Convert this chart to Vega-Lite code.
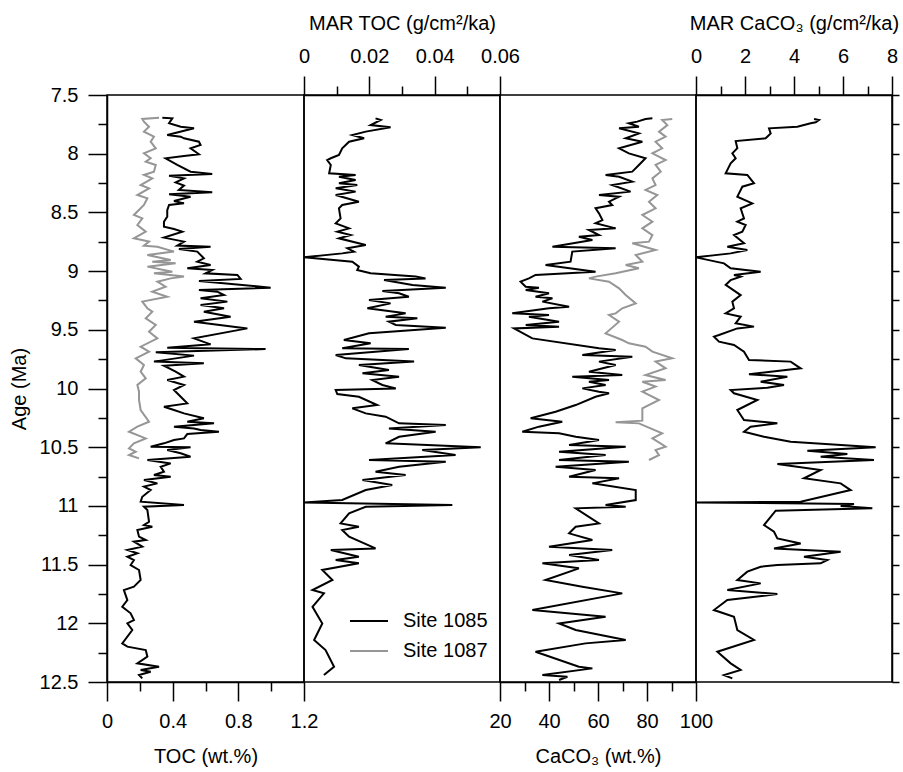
{
"$schema":"https://vega.github.io/schema/vega-lite/v6.json",
"padding":{"left":8,"top":12,"right":5,"bottom":5},
"background":"white",
"spacing":0,
"bounds":"flush",
"resolve":{"scale":{"x":"independent","y":"independent","color":"independent"},"legend":{"color":"independent"}},
"config":{
 "font":"Liberation Sans",
 "view":{"stroke":"black","strokeWidth":1.5},
 "axis":{"labelFont":"Liberation Sans","titleFont":"Liberation Sans","labelFontSize":20,"titleFontSize":20,"titleFontWeight":"normal","labelColor":"black","titleColor":"black","domainColor":"black","tickColor":"black","domainWidth":1.5,"tickWidth":1.5,"grid":false,"labelFlush":false,"labelOverlap":false,"labelPadding":10,"titlePadding":10},
 "axisX":{"titlePadding":15},
 "legend":{"labelFont":"Liberation Sans","labelFontSize":20,"labelColor":"black"}
},
"datasets":{
"toc":[
{"site":"Site 1085","age":7.693,"value":0.337},{"site":"Site 1085","age":7.699,"value":0.398},{"site":"Site 1085","age":7.741,"value":0.378},{"site":"Site 1085","age":7.770,"value":0.449},{"site":"Site 1085","age":7.784,"value":0.530},{"site":"Site 1085","age":7.841,"value":0.367},{"site":"Site 1085","age":7.855,"value":0.449},{"site":"Site 1085","age":7.869,"value":0.469},{"site":"Site 1085","age":7.898,"value":0.560},{"site":"Site 1085","age":7.926,"value":0.570},{"site":"Site 1085","age":7.954,"value":0.509},{"site":"Site 1085","age":8.005,"value":0.560},{"site":"Site 1085","age":8.020,"value":0.469},{"site":"Site 1085","age":8.039,"value":0.357},{"site":"Site 1085","age":8.096,"value":0.428},{"site":"Site 1085","age":8.153,"value":0.509},{"site":"Site 1085","age":8.173,"value":0.641},{"site":"Site 1085","age":8.187,"value":0.378},{"site":"Site 1085","age":8.210,"value":0.469},{"site":"Site 1085","age":8.244,"value":0.418},{"site":"Site 1085","age":8.272,"value":0.469},{"site":"Site 1085","age":8.309,"value":0.438},{"site":"Site 1085","age":8.329,"value":0.641},{"site":"Site 1085","age":8.346,"value":0.378},{"site":"Site 1085","age":8.366,"value":0.509},{"site":"Site 1085","age":8.403,"value":0.408},{"site":"Site 1085","age":8.423,"value":0.469},{"site":"Site 1085","age":8.437,"value":0.378},{"site":"Site 1085","age":8.480,"value":0.367},{"site":"Site 1085","age":8.536,"value":0.367},{"site":"Site 1085","age":8.579,"value":0.347},{"site":"Site 1085","age":8.622,"value":0.347},{"site":"Site 1085","age":8.641,"value":0.408},{"site":"Site 1085","age":8.664,"value":0.459},{"site":"Site 1085","age":8.715,"value":0.347},{"site":"Site 1085","age":8.749,"value":0.469},{"site":"Site 1085","age":8.783,"value":0.428},{"site":"Site 1085","age":8.792,"value":0.631},{"site":"Site 1085","age":8.812,"value":0.438},{"site":"Site 1085","age":8.834,"value":0.550},{"site":"Site 1085","age":8.891,"value":0.590},{"site":"Site 1085","age":8.920,"value":0.550},{"site":"Site 1085","age":8.948,"value":0.631},{"site":"Site 1085","age":8.976,"value":0.489},{"site":"Site 1085","age":8.991,"value":0.641},{"site":"Site 1085","age":9.019,"value":0.600},{"site":"Site 1085","age":9.033,"value":0.794},{"site":"Site 1085","age":9.067,"value":0.814},{"site":"Site 1085","age":9.084,"value":0.560},{"site":"Site 1085","age":9.141,"value":0.997},{"site":"Site 1085","age":9.161,"value":0.560},{"site":"Site 1085","age":9.175,"value":0.672},{"site":"Site 1085","age":9.204,"value":0.713},{"site":"Site 1085","age":9.232,"value":0.570},{"site":"Site 1085","age":9.260,"value":0.733},{"site":"Site 1085","age":9.289,"value":0.570},{"site":"Site 1085","age":9.317,"value":0.713},{"site":"Site 1085","age":9.346,"value":0.590},{"site":"Site 1085","age":9.388,"value":0.753},{"site":"Site 1085","age":9.431,"value":0.530},{"site":"Site 1085","age":9.488,"value":0.855},{"site":"Site 1085","age":9.573,"value":0.530},{"site":"Site 1085","age":9.624,"value":0.631},{"site":"Site 1085","age":9.652,"value":0.367},{"site":"Site 1085","age":9.664,"value":0.966},{"site":"Site 1085","age":9.692,"value":0.297},{"site":"Site 1085","age":9.720,"value":0.530},{"site":"Site 1085","age":9.771,"value":0.286},{"site":"Site 1085","age":9.785,"value":0.590},{"site":"Site 1085","age":9.806,"value":0.347},{"site":"Site 1085","age":9.857,"value":0.418},{"site":"Site 1085","age":9.899,"value":0.469},{"site":"Site 1085","age":9.928,"value":0.367},{"site":"Site 1085","age":9.970,"value":0.469},{"site":"Site 1085","age":10.013,"value":0.408},{"site":"Site 1085","age":10.070,"value":0.449},{"site":"Site 1085","age":10.127,"value":0.489},{"site":"Site 1085","age":10.155,"value":0.347},{"site":"Site 1085","age":10.183,"value":0.408},{"site":"Site 1085","age":10.212,"value":0.469},{"site":"Site 1085","age":10.254,"value":0.590},{"site":"Site 1085","age":10.283,"value":0.489},{"site":"Site 1085","age":10.297,"value":0.652},{"site":"Site 1085","age":10.325,"value":0.408},{"site":"Site 1085","age":10.340,"value":0.530},{"site":"Site 1085","age":10.354,"value":0.570},{"site":"Site 1085","age":10.368,"value":0.682},{"site":"Site 1085","age":10.388,"value":0.489},{"site":"Site 1085","age":10.425,"value":0.469},{"site":"Site 1085","age":10.439,"value":0.408},{"site":"Site 1085","age":10.467,"value":0.347},{"site":"Site 1085","age":10.496,"value":0.266},{"site":"Site 1085","age":10.501,"value":0.509},{"site":"Site 1085","age":10.524,"value":0.367},{"site":"Site 1085","age":10.552,"value":0.449},{"site":"Site 1085","age":10.581,"value":0.509},{"site":"Site 1085","age":10.609,"value":0.246},{"site":"Site 1085","age":10.638,"value":0.388},{"site":"Site 1085","age":10.666,"value":0.327},{"site":"Site 1085","age":10.709,"value":0.347},{"site":"Site 1085","age":10.737,"value":0.286},{"site":"Site 1085","age":10.751,"value":0.388},{"site":"Site 1085","age":10.780,"value":0.225},{"site":"Site 1085","age":10.808,"value":0.307},{"site":"Site 1085","age":10.836,"value":0.225},{"site":"Site 1085","age":10.865,"value":0.266},{"site":"Site 1085","age":10.922,"value":0.215},{"site":"Site 1085","age":10.964,"value":0.205},{"site":"Site 1085","age":10.993,"value":0.469},{"site":"Site 1085","age":11.007,"value":0.225},{"site":"Site 1085","age":11.035,"value":0.246},{"site":"Site 1085","age":11.135,"value":0.256},{"site":"Site 1085","age":11.163,"value":0.225},{"site":"Site 1085","age":11.177,"value":0.276},{"site":"Site 1085","age":11.206,"value":0.185},{"site":"Site 1085","age":11.262,"value":0.195},{"site":"Site 1085","age":11.291,"value":0.236},{"site":"Site 1085","age":11.305,"value":0.164},{"site":"Site 1085","age":11.347,"value":0.215},{"site":"Site 1085","age":11.376,"value":0.124},{"site":"Site 1085","age":11.404,"value":0.185},{"site":"Site 1085","age":11.433,"value":0.124},{"site":"Site 1085","age":11.461,"value":0.164},{"site":"Site 1085","age":11.504,"value":0.144},{"site":"Site 1085","age":11.546,"value":0.195},{"site":"Site 1085","age":11.631,"value":0.205},{"site":"Site 1085","age":11.688,"value":0.164},{"site":"Site 1085","age":11.717,"value":0.103},{"site":"Site 1085","age":11.802,"value":0.124},{"site":"Site 1085","age":11.859,"value":0.093},{"site":"Site 1085","age":11.915,"value":0.144},{"site":"Site 1085","age":11.972,"value":0.164},{"site":"Site 1085","age":12.001,"value":0.124},{"site":"Site 1085","age":12.057,"value":0.154},{"site":"Site 1085","age":12.171,"value":0.093},{"site":"Site 1085","age":12.199,"value":0.124},{"site":"Site 1085","age":12.228,"value":0.236},{"site":"Site 1085","age":12.284,"value":0.246},{"site":"Site 1085","age":12.341,"value":0.185},{"site":"Site 1085","age":12.370,"value":0.317},{"site":"Site 1085","age":12.398,"value":0.205},{"site":"Site 1085","age":12.412,"value":0.266},{"site":"Site 1085","age":12.441,"value":0.195},{"site":"Site 1085","age":12.469,"value":0.215},
{"site":"Site 1087","age":7.693,"value":0.317},{"site":"Site 1087","age":7.704,"value":0.215},{"site":"Site 1087","age":7.727,"value":0.225},{"site":"Site 1087","age":7.770,"value":0.256},{"site":"Site 1087","age":7.812,"value":0.225},{"site":"Site 1087","age":7.855,"value":0.286},{"site":"Site 1087","age":7.898,"value":0.266},{"site":"Site 1087","age":7.954,"value":0.297},{"site":"Site 1087","age":7.997,"value":0.225},{"site":"Site 1087","age":8.039,"value":0.266},{"site":"Site 1087","age":8.068,"value":0.236},{"site":"Site 1087","age":8.096,"value":0.297},{"site":"Site 1087","age":8.153,"value":0.286},{"site":"Site 1087","age":8.181,"value":0.225},{"site":"Site 1087","age":8.210,"value":0.276},{"site":"Site 1087","age":8.267,"value":0.205},{"site":"Site 1087","age":8.295,"value":0.256},{"site":"Site 1087","age":8.352,"value":0.185},{"site":"Site 1087","age":8.380,"value":0.246},{"site":"Site 1087","age":8.437,"value":0.225},{"site":"Site 1087","age":8.522,"value":0.164},{"site":"Site 1087","age":8.551,"value":0.215},{"site":"Site 1087","age":8.607,"value":0.185},{"site":"Site 1087","age":8.664,"value":0.236},{"site":"Site 1087","age":8.721,"value":0.164},{"site":"Site 1087","age":8.749,"value":0.256},{"site":"Site 1087","age":8.783,"value":0.225},{"site":"Site 1087","age":8.792,"value":0.307},{"site":"Site 1087","age":8.834,"value":0.408},{"site":"Site 1087","age":8.863,"value":0.246},{"site":"Site 1087","age":8.905,"value":0.388},{"site":"Site 1087","age":8.920,"value":0.276},{"site":"Site 1087","age":8.934,"value":0.418},{"site":"Site 1087","age":8.962,"value":0.246},{"site":"Site 1087","age":9.005,"value":0.398},{"site":"Site 1087","age":9.019,"value":0.286},{"site":"Site 1087","age":9.047,"value":0.469},{"site":"Site 1087","age":9.062,"value":0.388},{"site":"Site 1087","age":9.090,"value":0.307},{"site":"Site 1087","age":9.133,"value":0.357},{"site":"Site 1087","age":9.175,"value":0.276},{"site":"Site 1087","age":9.218,"value":0.367},{"site":"Site 1087","age":9.260,"value":0.215},{"site":"Site 1087","age":9.317,"value":0.246},{"site":"Site 1087","age":9.346,"value":0.276},{"site":"Site 1087","age":9.402,"value":0.236},{"site":"Site 1087","age":9.459,"value":0.297},{"site":"Site 1087","age":9.516,"value":0.256},{"site":"Site 1087","age":9.573,"value":0.307},{"site":"Site 1087","age":9.644,"value":0.205},{"site":"Site 1087","age":9.686,"value":0.256},{"site":"Site 1087","age":9.743,"value":0.175},{"site":"Site 1087","age":9.800,"value":0.225},{"site":"Site 1087","age":9.857,"value":0.205},{"site":"Site 1087","age":9.913,"value":0.236},{"site":"Site 1087","age":9.970,"value":0.185},{"site":"Site 1087","age":10.027,"value":0.195},{"site":"Site 1087","age":10.098,"value":0.195},{"site":"Site 1087","age":10.183,"value":0.205},{"site":"Site 1087","age":10.283,"value":0.256},{"site":"Site 1087","age":10.325,"value":0.185},{"site":"Site 1087","age":10.368,"value":0.134},{"site":"Site 1087","age":10.425,"value":0.236},{"site":"Site 1087","age":10.467,"value":0.164},{"site":"Site 1087","age":10.510,"value":0.134},{"site":"Site 1087","age":10.538,"value":0.175},{"site":"Site 1087","age":10.567,"value":0.134},{"site":"Site 1087","age":10.595,"value":0.195}
],
"martoc":[
{"site":"Site 1085","age":7.699,"value":0.0219},{"site":"Site 1085","age":7.713,"value":0.0235},{"site":"Site 1085","age":7.756,"value":0.0204},{"site":"Site 1085","age":7.775,"value":0.0265},{"site":"Site 1085","age":7.812,"value":0.0189},{"site":"Site 1085","age":7.841,"value":0.0148},{"site":"Site 1085","age":7.869,"value":0.0184},{"site":"Site 1085","age":7.898,"value":0.0138},{"site":"Site 1085","age":7.954,"value":0.0117},{"site":"Site 1085","age":8.011,"value":0.0107},{"site":"Site 1085","age":8.039,"value":0.0082},{"site":"Site 1085","age":8.054,"value":0.0071},{"site":"Site 1085","age":8.096,"value":0.0082},{"site":"Site 1085","age":8.167,"value":0.0077},{"site":"Site 1085","age":8.181,"value":0.0158},{"site":"Site 1085","age":8.196,"value":0.0107},{"site":"Site 1085","age":8.224,"value":0.0158},{"site":"Site 1085","age":8.252,"value":0.0107},{"site":"Site 1085","age":8.267,"value":0.0163},{"site":"Site 1085","age":8.295,"value":0.0097},{"site":"Site 1085","age":8.323,"value":0.0158},{"site":"Site 1085","age":8.352,"value":0.0097},{"site":"Site 1085","age":8.409,"value":0.0168},{"site":"Site 1085","age":8.437,"value":0.0117},{"site":"Site 1085","age":8.465,"value":0.0107},{"site":"Site 1085","age":8.551,"value":0.0112},{"site":"Site 1085","age":8.593,"value":0.0097},{"site":"Site 1085","age":8.636,"value":0.0138},{"site":"Site 1085","age":8.664,"value":0.0102},{"site":"Site 1085","age":8.693,"value":0.0143},{"site":"Site 1085","age":8.721,"value":0.0107},{"site":"Site 1085","age":8.778,"value":0.0189},{"site":"Site 1085","age":8.806,"value":0.0133},{"site":"Site 1085","age":8.834,"value":0.0153},{"site":"Site 1085","age":8.849,"value":0.0117},{"site":"Site 1085","age":8.883,"value":0.0},{"site":"Site 1085","age":8.920,"value":0.0148},{"site":"Site 1085","age":8.962,"value":0.0168},{"site":"Site 1085","age":8.991,"value":0.0163},{"site":"Site 1085","age":9.019,"value":0.0204},{"site":"Site 1085","age":9.047,"value":0.0342},{"site":"Site 1085","age":9.062,"value":0.0372},{"site":"Site 1085","age":9.076,"value":0.0245},{"site":"Site 1085","age":9.118,"value":0.0332},{"site":"Site 1085","age":9.141,"value":0.0434},{"site":"Site 1085","age":9.170,"value":0.0240},{"site":"Site 1085","age":9.189,"value":0.0291},{"site":"Site 1085","age":9.218,"value":0.0321},{"site":"Site 1085","age":9.246,"value":0.0199},{"site":"Site 1085","age":9.275,"value":0.0265},{"site":"Site 1085","age":9.317,"value":0.0194},{"site":"Site 1085","age":9.360,"value":0.0311},{"site":"Site 1085","age":9.388,"value":0.0250},{"site":"Site 1085","age":9.402,"value":0.0347},{"site":"Site 1085","age":9.431,"value":0.0260},{"site":"Site 1085","age":9.459,"value":0.0281},{"site":"Site 1085","age":9.482,"value":0.0434},{"site":"Site 1085","age":9.530,"value":0.0199},{"site":"Site 1085","age":9.587,"value":0.0122},{"site":"Site 1085","age":9.615,"value":0.0204},{"site":"Site 1085","age":9.658,"value":0.0117},{"site":"Site 1085","age":9.664,"value":0.0321},{"site":"Site 1085","age":9.715,"value":0.0097},{"site":"Site 1085","age":9.743,"value":0.0128},{"site":"Site 1085","age":9.771,"value":0.0337},{"site":"Site 1085","age":9.800,"value":0.0168},{"site":"Site 1085","age":9.842,"value":0.0260},{"site":"Site 1085","age":9.871,"value":0.0179},{"site":"Site 1085","age":9.899,"value":0.0291},{"site":"Site 1085","age":9.928,"value":0.0209},{"site":"Site 1085","age":9.970,"value":0.0240},{"site":"Site 1085","age":9.999,"value":0.0281},{"site":"Site 1085","age":10.013,"value":0.0097},{"site":"Site 1085","age":10.047,"value":0.0102},{"site":"Site 1085","age":10.070,"value":0.0168},{"site":"Site 1085","age":10.141,"value":0.0224},{"site":"Site 1085","age":10.169,"value":0.0148},{"site":"Site 1085","age":10.212,"value":0.0189},{"site":"Site 1085","age":10.240,"value":0.0250},{"site":"Site 1085","age":10.297,"value":0.0291},{"site":"Site 1085","age":10.311,"value":0.0434},{"site":"Site 1085","age":10.340,"value":0.0260},{"site":"Site 1085","age":10.368,"value":0.0403},{"site":"Site 1085","age":10.411,"value":0.0291},{"site":"Site 1085","age":10.467,"value":0.0250},{"site":"Site 1085","age":10.501,"value":0.0541},{"site":"Site 1085","age":10.524,"value":0.0362},{"site":"Site 1085","age":10.567,"value":0.0464},{"site":"Site 1085","age":10.609,"value":0.0199},{"site":"Site 1085","age":10.623,"value":0.0434},{"site":"Site 1085","age":10.666,"value":0.0291},{"site":"Site 1085","age":10.709,"value":0.0219},{"site":"Site 1085","age":10.737,"value":0.0311},{"site":"Site 1085","age":10.780,"value":0.0179},{"site":"Site 1085","age":10.822,"value":0.0270},{"site":"Site 1085","age":10.865,"value":0.0189},{"site":"Site 1085","age":10.950,"value":0.0117},{"site":"Site 1085","age":10.970,"value":0.0},{"site":"Site 1085","age":10.993,"value":0.0454},{"site":"Site 1085","age":11.007,"value":0.0189},{"site":"Site 1085","age":11.064,"value":0.0138},{"site":"Site 1085","age":11.149,"value":0.0112},{"site":"Site 1085","age":11.177,"value":0.0168},{"site":"Site 1085","age":11.206,"value":0.0117},{"site":"Site 1085","age":11.262,"value":0.0138},{"site":"Site 1085","age":11.362,"value":0.0219},{"site":"Site 1085","age":11.376,"value":0.0082},{"site":"Site 1085","age":11.433,"value":0.0168},{"site":"Site 1085","age":11.461,"value":0.0097},{"site":"Site 1085","age":11.489,"value":0.0168},{"site":"Site 1085","age":11.546,"value":0.0056},{"site":"Site 1085","age":11.631,"value":0.0087},{"site":"Site 1085","age":11.717,"value":0.0026},{"site":"Site 1085","age":11.745,"value":0.0061},{"site":"Site 1085","age":11.859,"value":0.0026},{"site":"Site 1085","age":12.001,"value":0.0056},{"site":"Site 1085","age":12.142,"value":0.0031},{"site":"Site 1085","age":12.228,"value":0.0066},{"site":"Site 1085","age":12.370,"value":0.0092},{"site":"Site 1085","age":12.441,"value":0.0061}
],
"caco3":[
{"site":"Site 1085","age":7.699,"value":82.2},{"site":"Site 1085","age":7.704,"value":79.4},{"site":"Site 1085","age":7.727,"value":76.0},{"site":"Site 1085","age":7.741,"value":72.6},{"site":"Site 1085","age":7.770,"value":76.7},{"site":"Site 1085","age":7.784,"value":68.6},{"site":"Site 1085","age":7.827,"value":76.7},{"site":"Site 1085","age":7.869,"value":71.3},{"site":"Site 1085","age":7.898,"value":78.1},{"site":"Site 1085","age":7.954,"value":68.6},{"site":"Site 1085","age":7.997,"value":72.6},{"site":"Site 1085","age":8.039,"value":79.4},{"site":"Site 1085","age":8.096,"value":76.7},{"site":"Site 1085","age":8.153,"value":74.0},{"site":"Site 1085","age":8.181,"value":63.1},{"site":"Site 1085","age":8.196,"value":68.6},{"site":"Site 1085","age":8.238,"value":74.0},{"site":"Site 1085","age":8.267,"value":65.8},{"site":"Site 1085","age":8.323,"value":73.3},{"site":"Site 1085","age":8.352,"value":60.4},{"site":"Site 1085","age":8.366,"value":68.6},{"site":"Site 1085","age":8.409,"value":64.5},{"site":"Site 1085","age":8.437,"value":65.8},{"site":"Site 1085","age":8.465,"value":59.0},{"site":"Site 1085","age":8.508,"value":60.4},{"site":"Site 1085","age":8.565,"value":61.8},{"site":"Site 1085","age":8.593,"value":59.0},{"site":"Site 1085","age":8.636,"value":67.2},{"site":"Site 1085","age":8.650,"value":56.3},{"site":"Site 1085","age":8.693,"value":60.4},{"site":"Site 1085","age":8.707,"value":52.2},{"site":"Site 1085","age":8.735,"value":57.7},{"site":"Site 1085","age":8.792,"value":41.4},{"site":"Site 1085","age":8.806,"value":67.2},{"site":"Site 1085","age":8.834,"value":49.5},{"site":"Site 1085","age":8.920,"value":48.8},{"site":"Site 1085","age":8.948,"value":38.6},{"site":"Site 1085","age":9.005,"value":59.0},{"site":"Site 1085","age":9.033,"value":34.5},{"site":"Site 1085","age":9.062,"value":31.8},{"site":"Site 1085","age":9.090,"value":28.4},{"site":"Site 1085","age":9.133,"value":30.5},{"site":"Site 1085","age":9.141,"value":35.9},{"site":"Site 1085","age":9.161,"value":30.5},{"site":"Site 1085","age":9.189,"value":40.0},{"site":"Site 1085","age":9.218,"value":34.5},{"site":"Site 1085","age":9.232,"value":41.4},{"site":"Site 1085","age":9.260,"value":37.3},{"site":"Site 1085","age":9.303,"value":48.2},{"site":"Site 1085","age":9.317,"value":40.0},{"site":"Site 1085","age":9.360,"value":25.0},{"site":"Site 1085","age":9.374,"value":40.0},{"site":"Site 1085","age":9.388,"value":31.8},{"site":"Site 1085","age":9.431,"value":44.1},{"site":"Site 1085","age":9.459,"value":30.5},{"site":"Site 1085","age":9.473,"value":44.1},{"site":"Site 1085","age":9.488,"value":25.7},{"site":"Site 1085","age":9.573,"value":33.2},{"site":"Site 1085","age":9.658,"value":60.4},{"site":"Site 1085","age":9.672,"value":67.2},{"site":"Site 1085","age":9.715,"value":53.6},{"site":"Site 1085","age":9.729,"value":74.0},{"site":"Site 1085","age":9.771,"value":60.4},{"site":"Site 1085","age":9.800,"value":67.2},{"site":"Site 1085","age":9.857,"value":56.3},{"site":"Site 1085","age":9.885,"value":69.9},{"site":"Site 1085","age":9.899,"value":49.5},{"site":"Site 1085","age":9.928,"value":64.5},{"site":"Site 1085","age":9.942,"value":56.3},{"site":"Site 1085","age":9.970,"value":63.1},{"site":"Site 1085","age":9.999,"value":53.6},{"site":"Site 1085","age":10.027,"value":60.4},{"site":"Site 1085","age":10.041,"value":64.5},{"site":"Site 1085","age":10.070,"value":59.0},{"site":"Site 1085","age":10.141,"value":50.9},{"site":"Site 1085","age":10.198,"value":42.7},{"site":"Site 1085","age":10.254,"value":32.5},{"site":"Site 1085","age":10.283,"value":45.4},{"site":"Site 1085","age":10.325,"value":35.9},{"site":"Site 1085","age":10.368,"value":29.1},{"site":"Site 1085","age":10.382,"value":44.1},{"site":"Site 1085","age":10.411,"value":50.9},{"site":"Site 1085","age":10.439,"value":60.4},{"site":"Site 1085","age":10.481,"value":48.2},{"site":"Site 1085","age":10.496,"value":71.3},{"site":"Site 1085","age":10.538,"value":44.1},{"site":"Site 1085","age":10.567,"value":63.1},{"site":"Site 1085","age":10.609,"value":44.1},{"site":"Site 1085","age":10.623,"value":72.6},{"site":"Site 1085","age":10.666,"value":42.7},{"site":"Site 1085","age":10.694,"value":59.0},{"site":"Site 1085","age":10.751,"value":48.2},{"site":"Site 1085","age":10.765,"value":68.6},{"site":"Site 1085","age":10.808,"value":57.7},{"site":"Site 1085","age":10.865,"value":75.4},{"site":"Site 1085","age":10.950,"value":75.4},{"site":"Site 1085","age":10.993,"value":63.1},{"site":"Site 1085","age":11.007,"value":71.3},{"site":"Site 1085","age":11.021,"value":50.9},{"site":"Site 1085","age":11.149,"value":60.4},{"site":"Site 1085","age":11.177,"value":50.9},{"site":"Site 1085","age":11.234,"value":48.2},{"site":"Site 1085","age":11.291,"value":57.7},{"site":"Site 1085","age":11.347,"value":40.0},{"site":"Site 1085","age":11.376,"value":65.8},{"site":"Site 1085","age":11.419,"value":48.2},{"site":"Site 1085","age":11.461,"value":60.4},{"site":"Site 1085","age":11.489,"value":37.3},{"site":"Site 1085","age":11.532,"value":52.2},{"site":"Site 1085","age":11.631,"value":38.6},{"site":"Site 1085","age":11.688,"value":53.6},{"site":"Site 1085","age":11.745,"value":69.9},{"site":"Site 1085","age":11.887,"value":33.2},{"site":"Site 1085","age":11.944,"value":63.1},{"site":"Site 1085","age":12.001,"value":44.1},{"site":"Site 1085","age":12.057,"value":50.9},{"site":"Site 1085","age":12.142,"value":71.3},{"site":"Site 1085","age":12.171,"value":54.9},{"site":"Site 1085","age":12.242,"value":34.5},{"site":"Site 1085","age":12.370,"value":52.2},{"site":"Site 1085","age":12.384,"value":57.7},{"site":"Site 1085","age":12.441,"value":37.3},{"site":"Site 1085","age":12.455,"value":47.5},{"site":"Site 1085","age":12.483,"value":44.1},
{"site":"Site 1087","age":7.704,"value":90.3},{"site":"Site 1087","age":7.713,"value":86.2},{"site":"Site 1087","age":7.756,"value":88.3},{"site":"Site 1087","age":7.812,"value":84.9},{"site":"Site 1087","age":7.855,"value":87.6},{"site":"Site 1087","age":7.898,"value":83.5},{"site":"Site 1087","age":7.954,"value":86.2},{"site":"Site 1087","age":7.997,"value":82.2},{"site":"Site 1087","age":8.054,"value":87.6},{"site":"Site 1087","age":8.096,"value":83.5},{"site":"Site 1087","age":8.153,"value":85.6},{"site":"Site 1087","age":8.210,"value":82.2},{"site":"Site 1087","age":8.267,"value":83.5},{"site":"Site 1087","age":8.309,"value":79.4},{"site":"Site 1087","age":8.352,"value":84.2},{"site":"Site 1087","age":8.409,"value":80.8},{"site":"Site 1087","age":8.465,"value":83.5},{"site":"Site 1087","age":8.522,"value":78.1},{"site":"Site 1087","age":8.579,"value":82.2},{"site":"Site 1087","age":8.636,"value":78.1},{"site":"Site 1087","age":8.693,"value":82.2},{"site":"Site 1087","age":8.749,"value":80.8},{"site":"Site 1087","age":8.763,"value":74.0},{"site":"Site 1087","age":8.820,"value":83.5},{"site":"Site 1087","age":8.863,"value":75.4},{"site":"Site 1087","age":8.920,"value":78.1},{"site":"Site 1087","age":8.948,"value":71.3},{"site":"Site 1087","age":8.976,"value":76.7},{"site":"Site 1087","age":9.019,"value":67.2},{"site":"Site 1087","age":9.047,"value":59.0},{"site":"Site 1087","age":9.062,"value":56.3},{"site":"Site 1087","age":9.090,"value":64.5},{"site":"Site 1087","age":9.147,"value":68.6},{"site":"Site 1087","age":9.204,"value":71.3},{"site":"Site 1087","age":9.275,"value":75.4},{"site":"Site 1087","age":9.317,"value":69.9},{"site":"Site 1087","age":9.360,"value":67.2},{"site":"Site 1087","age":9.374,"value":64.5},{"site":"Site 1087","age":9.431,"value":68.6},{"site":"Site 1087","age":9.530,"value":63.1},{"site":"Site 1087","age":9.587,"value":69.9},{"site":"Site 1087","age":9.615,"value":72.6},{"site":"Site 1087","age":9.644,"value":79.4},{"site":"Site 1087","age":9.686,"value":82.2},{"site":"Site 1087","age":9.743,"value":90.3},{"site":"Site 1087","age":9.771,"value":83.5},{"site":"Site 1087","age":9.828,"value":87.6},{"site":"Site 1087","age":9.885,"value":79.4},{"site":"Site 1087","age":9.928,"value":87.6},{"site":"Site 1087","age":9.942,"value":78.1},{"site":"Site 1087","age":9.984,"value":83.5},{"site":"Site 1087","age":10.027,"value":78.1},{"site":"Site 1087","age":10.098,"value":84.9},{"site":"Site 1087","age":10.169,"value":78.1},{"site":"Site 1087","age":10.274,"value":78.1},{"site":"Site 1087","age":10.288,"value":67.2},{"site":"Site 1087","age":10.297,"value":76.7},{"site":"Site 1087","age":10.382,"value":86.2},{"site":"Site 1087","age":10.425,"value":82.2},{"site":"Site 1087","age":10.496,"value":87.6},{"site":"Site 1087","age":10.524,"value":83.5},{"site":"Site 1087","age":10.567,"value":84.9},{"site":"Site 1087","age":10.609,"value":80.8}
],
"marcaco3":[
{"site":"Site 1085","age":7.704,"value":4.817},{"site":"Site 1085","age":7.713,"value":5.021},{"site":"Site 1085","age":7.733,"value":4.885},{"site":"Site 1085","age":7.741,"value":4.681},{"site":"Site 1085","age":7.770,"value":4.136},{"site":"Site 1085","age":7.784,"value":2.980},{"site":"Site 1085","age":7.827,"value":3.048},{"site":"Site 1085","age":7.869,"value":2.844},{"site":"Site 1085","age":7.892,"value":1.619},{"site":"Site 1085","age":7.954,"value":1.687},{"site":"Site 1085","age":7.997,"value":1.483},{"site":"Site 1085","age":8.039,"value":1.619},{"site":"Site 1085","age":8.082,"value":1.415},{"site":"Site 1085","age":8.167,"value":1.211},{"site":"Site 1085","age":8.181,"value":2.095},{"site":"Site 1085","age":8.252,"value":2.367},{"site":"Site 1085","age":8.281,"value":1.891},{"site":"Site 1085","age":8.366,"value":1.687},{"site":"Site 1085","age":8.423,"value":2.299},{"site":"Site 1085","age":8.465,"value":1.823},{"site":"Site 1085","age":8.551,"value":1.959},{"site":"Site 1085","age":8.579,"value":1.687},{"site":"Site 1085","age":8.607,"value":2.027},{"site":"Site 1085","age":8.664,"value":1.891},{"site":"Site 1085","age":8.693,"value":1.551},{"site":"Site 1085","age":8.763,"value":1.959},{"site":"Site 1085","age":8.792,"value":1.279},{"site":"Site 1085","age":8.820,"value":2.095},{"site":"Site 1085","age":8.849,"value":1.415},{"site":"Site 1085","age":8.883,"value":0.0},{"site":"Site 1085","age":8.934,"value":1.143},{"site":"Site 1085","age":8.976,"value":1.415},{"site":"Site 1085","age":9.005,"value":2.640},{"site":"Site 1085","age":9.033,"value":1.551},{"site":"Site 1085","age":9.047,"value":1.823},{"site":"Site 1085","age":9.076,"value":1.415},{"site":"Site 1085","age":9.118,"value":1.211},{"site":"Site 1085","age":9.204,"value":1.823},{"site":"Site 1085","age":9.260,"value":1.483},{"site":"Site 1085","age":9.317,"value":1.551},{"site":"Site 1085","age":9.360,"value":1.211},{"site":"Site 1085","age":9.388,"value":1.823},{"site":"Site 1085","age":9.445,"value":1.619},{"site":"Site 1085","age":9.473,"value":2.367},{"site":"Site 1085","age":9.488,"value":1.687},{"site":"Site 1085","age":9.544,"value":0.939},{"site":"Site 1085","age":9.558,"value":0.735},{"site":"Site 1085","age":9.601,"value":0.939},{"site":"Site 1085","age":9.629,"value":1.551},{"site":"Site 1085","age":9.686,"value":1.959},{"site":"Site 1085","age":9.757,"value":2.163},{"site":"Site 1085","age":9.771,"value":3.864},{"site":"Site 1085","age":9.828,"value":4.272},{"site":"Site 1085","age":9.879,"value":2.163},{"site":"Site 1085","age":9.899,"value":3.728},{"site":"Site 1085","age":9.942,"value":2.640},{"site":"Site 1085","age":9.970,"value":3.592},{"site":"Site 1085","age":9.993,"value":2.912},{"site":"Site 1085","age":10.013,"value":1.415},{"site":"Site 1085","age":10.041,"value":1.551},{"site":"Site 1085","age":10.098,"value":2.504},{"site":"Site 1085","age":10.183,"value":1.687},{"site":"Site 1085","age":10.269,"value":1.959},{"site":"Site 1085","age":10.297,"value":3.320},{"site":"Site 1085","age":10.325,"value":2.231},{"site":"Site 1085","age":10.368,"value":1.959},{"site":"Site 1085","age":10.411,"value":2.776},{"site":"Site 1085","age":10.453,"value":3.864},{"site":"Site 1085","age":10.501,"value":7.333},{"site":"Site 1085","age":10.530,"value":4.544},{"site":"Site 1085","age":10.558,"value":6.177},{"site":"Site 1085","age":10.581,"value":5.089},{"site":"Site 1085","age":10.609,"value":7.265},{"site":"Site 1085","age":10.643,"value":3.320},{"site":"Site 1085","age":10.694,"value":5.089},{"site":"Site 1085","age":10.765,"value":4.408},{"site":"Site 1085","age":10.808,"value":5.905},{"site":"Site 1085","age":10.865,"value":6.313},{"site":"Site 1085","age":10.964,"value":4.272},{"site":"Site 1085","age":10.970,"value":0.0},{"site":"Site 1085","age":10.984,"value":6.449},{"site":"Site 1085","age":11.001,"value":5.905},{"site":"Site 1085","age":11.021,"value":7.197},{"site":"Site 1085","age":11.041,"value":3.252},{"site":"Site 1085","age":11.163,"value":2.776},{"site":"Site 1085","age":11.220,"value":3.184},{"site":"Site 1085","age":11.277,"value":3.320},{"site":"Site 1085","age":11.320,"value":4.272},{"site":"Site 1085","age":11.362,"value":3.184},{"site":"Site 1085","age":11.390,"value":5.905},{"site":"Site 1085","age":11.433,"value":4.408},{"site":"Site 1085","age":11.461,"value":5.361},{"site":"Site 1085","age":11.489,"value":5.089},{"site":"Site 1085","age":11.504,"value":3.320},{"site":"Site 1085","age":11.518,"value":2.640},{"site":"Site 1085","age":11.560,"value":2.095},{"site":"Site 1085","age":11.631,"value":1.687},{"site":"Site 1085","age":11.660,"value":2.640},{"site":"Site 1085","age":11.717,"value":1.279},{"site":"Site 1085","age":11.751,"value":3.320},{"site":"Site 1085","age":11.802,"value":1.279},{"site":"Site 1085","age":11.887,"value":0.735},{"site":"Site 1085","age":11.944,"value":1.551},{"site":"Site 1085","age":12.057,"value":1.687},{"site":"Site 1085","age":12.142,"value":2.367},{"site":"Site 1085","age":12.242,"value":0.871},{"site":"Site 1085","age":12.341,"value":1.415},{"site":"Site 1085","age":12.398,"value":1.823},{"site":"Site 1085","age":12.441,"value":1.143},{"site":"Site 1085","age":12.469,"value":1.483}
]
},
"hconcat":[
{
 "width":197,"height":587,
 "data":{"name":"toc"},
 "mark":{"type":"line","strokeWidth":2},
 "encoding":{
  "x":{"field":"value","type":"quantitative","scale":{"domain":[0,1.2],"nice":false,"zero":false},
   "axis":{"orient":"bottom","title":"TOC (wt.%)","values":[0,0.2,0.4,0.6,0.8,1,1.2],"labelExpr":"round(datum.value*10)%4===0 ? format(datum.value,'~g') : ''","tickSize":{"condition":{"test":"round(datum.value*10)%4===0","value":19},"value":9}}},
  "y":{"field":"age","type":"quantitative","scale":{"domain":[7.5,12.5],"reverse":true,"nice":false,"zero":false},
   "axis":{"title":"Age (Ma)","values":[7.5,7.75,8,8.25,8.5,8.75,9,9.25,9.5,9.75,10,10.25,10.5,10.75,11,11.25,11.5,11.75,12,12.25,12.5],"labelExpr":"round(datum.value*4)%2===0 ? format(datum.value,'~g') : ''","tickSize":{"condition":{"test":"round(datum.value*4)%2===0","value":19},"value":9}}},
  "color":{"field":"site","type":"nominal","scale":{"domain":["Site 1085","Site 1087"],"range":["black","#969696"]},"legend":null},
  "order":{"field":"age","type":"quantitative"}
 }
},
{
 "width":196,"height":587,
 "data":{"name":"martoc"},
 "mark":{"type":"line","strokeWidth":2},
 "encoding":{
  "x":{"field":"value","type":"quantitative","scale":{"domain":[0,0.06],"nice":false,"zero":false},
   "axis":{"orient":"top","title":"MAR TOC (g/cm²/ka)","titlePadding":13,"values":[0,0.01,0.02,0.03,0.04,0.05,0.06],"labelExpr":"round(datum.value*100)%2===0 ? format(datum.value,'~g') : ''","tickSize":{"condition":{"test":"round(datum.value*100)%2===0","value":19},"value":9}}},
  "y":{"field":"age","type":"quantitative","scale":{"domain":[7.5,12.5],"reverse":true,"nice":false,"zero":false},"axis":null},
  "color":{"field":"site","type":"nominal","scale":{"domain":["Site 1085","Site 1087"],"range":["black","#969696"]},
   "legend":{"orient":"none","legendX":45,"legendY":506,"title":null,"padding":0,"symbolType":"stroke","symbolSize":1444,"symbolStrokeWidth":2,"labelOffset":14,"rowPadding":-5,"labelFontSize":20}},
  "order":{"field":"age","type":"quantitative"}
 }
},
{
 "width":196,"height":587,
 "data":{"name":"caco3"},
 "mark":{"type":"line","strokeWidth":2},
 "encoding":{
  "x":{"field":"value","type":"quantitative","scale":{"domain":[20,100],"nice":false,"zero":false},
   "axis":{"orient":"bottom","title":"CaCO₃ (wt.%)","values":[20,30,40,50,60,70,80,90,100],"labelExpr":"datum.value%20===0 ? format(datum.value,'~g') : ''","tickSize":{"condition":{"test":"datum.value%20===0","value":19},"value":9}}},
  "y":{"field":"age","type":"quantitative","scale":{"domain":[7.5,12.5],"reverse":true,"nice":false,"zero":false},"axis":null},
  "color":{"field":"site","type":"nominal","scale":{"domain":["Site 1085","Site 1087"],"range":["black","#969696"]},"legend":null},
  "order":{"field":"age","type":"quantitative"}
 }
},
{
 "width":196,"height":587,
 "data":{"name":"marcaco3"},
 "mark":{"type":"line","strokeWidth":2},
 "encoding":{
  "x":{"field":"value","type":"quantitative","scale":{"domain":[0,8],"nice":false,"zero":false},
   "axis":{"orient":"top","title":"MAR CaCO₃ (g/cm²/ka)","titlePadding":13,"values":[0,1,2,3,4,5,6,7,8],"labelExpr":"datum.value%2===0 ? format(datum.value,'~g') : ''","tickSize":{"condition":{"test":"datum.value%2===0","value":19},"value":9}}},
  "y":{"field":"age","type":"quantitative","scale":{"domain":[7.5,12.5],"reverse":true,"nice":false,"zero":false},
   "axis":{"orient":"right","title":null,"labels":false,"tickSize":7,"values":[7.5,7.75,8,8.25,8.5,8.75,9,9.25,9.5,9.75,10,10.25,10.5,10.75,11,11.25,11.5,11.75,12,12.25,12.5]}},
  "color":{"field":"site","type":"nominal","scale":{"domain":["Site 1085","Site 1087"],"range":["black","#969696"]},"legend":null},
  "order":{"field":"age","type":"quantitative"}
 }
}
]
}
